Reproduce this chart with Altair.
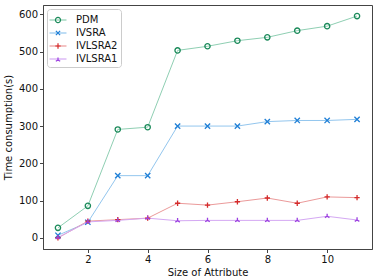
import altair as alt
import pandas as pd

sizes = list(range(1, 12))
series_names = ["PDM", "IVSRA", "IVLSRA2", "IVLSRA1"]
pdm = [27, 86, 291, 297, 503, 514, 529, 538, 556, 568, 595]
ivsra = [7, 42, 167, 167, 300, 300, 300, 312, 315, 315, 318]
ivlsra2 = [0, 45, 49, 53, 93, 88, 97, 107, 93, 110, 108]
ivlsra1 = [1, 43, 47, 53, 46, 47, 47, 47, 47, 58, 48]
x_ticks = [2, 4, 6, 8, 10]
y_ticks = [0, 100, 200, 300, 400, 500, 600]

marker_colors = ["#1b8a5a", "#1f7fd6", "#d42a2a", "#9b3fe0"]
line_colors = ["#8fcfb3", "#93c6ee", "#eb9a9a", "#d4a8f3"]
marker_paths = [
    "circle",
    "M-1,-1L1,1M-1,1L1,-1",
    "M-1,0L1,0M0,-1L0,1",
    "M0,0L0,-1M0,0L-0.87,0.5M0,0L0.87,0.5",
]
legend_paths = [
    "M0,-0.36A0.36,0.36,0,1,1,0,0.36A0.36,0.36,0,1,1,0,-0.36M-1.2,0H-1.2",
    "M-0.3,-0.3L0.3,0.3M-0.3,0.3L0.3,-0.3M-1.2,0H-1.2",
    "M-0.38,0L0.38,0M0,-0.38L0,0.38M-1.2,0H-1.2",
    "M0,0L0,-0.36M0,0L-0.31,0.18M0,0L0.31,0.18M-1.2,0H-1.2",
]

rows = []
for name, vals in zip(series_names, [pdm, ivsra, ivlsra2, ivlsra1]):
    for s, v in zip(sizes, vals):
        rows.append({"size": s, "time": v, "series": name})
df = pd.DataFrame(rows)

xs = alt.Scale(domain=[0.5, 11.5], nice=False, zero=False)
ys = alt.Scale(domain=[-29.75, 624.75], nice=False, zero=False)
xenc = alt.X("size:Q", scale=xs, axis=alt.Axis(values=x_ticks, title="Size of Attribute", format="d", titlePadding=3))
yenc = alt.Y("time:Q", scale=ys, axis=alt.Axis(values=y_ticks, title="Time consumption(s)", titlePadding=5))

common_legend = dict(title=None, orient="none", legendX=4, legendY=4, symbolSize=200,
                     labelFontSize=10, labelOffset=10, rowPadding=0, padding=3)

lines = alt.Chart(df).mark_line(strokeWidth=1).encode(
    x=xenc, y=yenc,
    color=alt.Color("series:N", scale=alt.Scale(domain=series_names, range=line_colors),
                    legend=alt.Legend(symbolType="M-1.2,0H1.2", symbolStrokeWidth=1.2,
                                      strokeColor="#cccccc", cornerRadius=3, fillColor="white",
                                      **common_legend)),
    detail="series:N",
)

points = alt.Chart(df).mark_point(filled=False, size=28, strokeWidth=1.3, opacity=1).encode(
    x=xenc, y=yenc,
    color=alt.Color("series:N", scale=alt.Scale(domain=series_names, range=marker_colors), legend=None),
    shape=alt.Shape("series:N", scale=alt.Scale(domain=series_names, range=marker_paths), legend=None),
)

legend_layer = alt.Chart(df).transform_filter("datum.time < -1000").mark_point(
    filled=False, size=200, strokeWidth=1.2, opacity=1
).encode(
    x=xenc, y=yenc,
    color=alt.Color("series:N", scale=alt.Scale(domain=series_names, range=marker_colors),
                    legend=alt.Legend(symbolStrokeWidth=1.2, labelOpacity=0, **common_legend)),
    shape=alt.Shape("series:N", scale=alt.Scale(domain=series_names, range=legend_paths),
                    legend=alt.Legend(title=None, orient="none", legendX=4, legendY=4)),
)

chart = alt.layer(lines, points, legend_layer).resolve_scale(
    color="independent", shape="independent"
).properties(
    width=329, height=244,
    autosize=alt.AutoSizeParams(type="none"),
    padding={"left": 43, "top": 5, "right": 5, "bottom": 29},
).configure(font="DejaVu Sans").configure_view(
    stroke="#444444", strokeWidth=1
).configure_axis(
    grid=False, domainColor="#444444", tickColor="#444444", tickSize=3.5,
    labelFontSize=10, titleFontSize=10, labelColor="#111111", titleColor="#111111",
    titleFontWeight="normal", labelPadding=2, labelFont="DejaVu Sans", titleFont="DejaVu Sans",
).configure_legend(
    labelFont="DejaVu Sans", labelColor="#111111"
)

chart.save("out.html", embed_options={"renderer": "svg", "actions": False})
